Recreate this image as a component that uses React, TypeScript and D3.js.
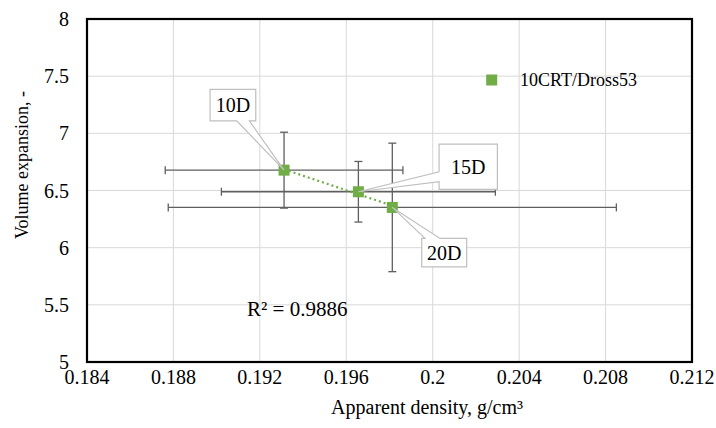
import React from "react";
import * as d3 from "d3";

// ---- data ----
const labels = ["10D", "15D", "20D"];
const density = [0.19312, 0.19656, 0.19813];
const expansion = [6.678, 6.489, 6.352];
const densityErr = [0.0055, 0.00634, 0.01037];
const expansionErr = [0.332, 0.265, 0.562];
const xTicks = [0.184, 0.188, 0.192, 0.196, 0.2, 0.204, 0.208, 0.212];
const yTicks = [5, 5.5, 6, 6.5, 7, 7.5, 8];
const seriesName = "10CRT/Dross53";
const r2Text = "R² = 0.9886";

// callout layout (box offsets relative to point, px) — styling only
const callouts = [
  { dx: -74, dy: -80.7, w: 45.7, h: 31.4, side: "bottom", a: 26.7, b: 39.3 },
  { dx: 80.7, dy: -47.7, w: 58.3, h: 45.3, side: "left", a: 27.7, b: 37.7 },
  { dx: 29.4, dy: 31, w: 45, h: 28.4, side: "top", a: 3.3, b: 18.3 },
];

const W = 716;
const H = 428;
const M = { left: 87, right: 692, top: 19, bottom: 362 };
const GREEN = "#70AD47";
const FONT = "'Liberation Serif', 'Times New Roman', serif";

export default function App() {
  const x = d3.scaleLinear().domain([0.184, 0.212]).range([M.left, M.right]);
  const y = d3.scaleLinear().domain([5, 8]).range([M.bottom, M.top]);

  const pts = density.map((d, i) => ({
    x: d,
    y: expansion[i],
    ex: densityErr[i],
    ey: expansionErr[i],
    label: labels[i],
  }));

  // linear trendline (least squares)
  const mx = d3.mean(density)!;
  const my = d3.mean(expansion)!;
  let num = 0,
    den = 0;
  density.forEach((d, i) => {
    num += (d - mx) * (expansion[i] - my);
    den += (d - mx) * (d - mx);
  });
  const slope = num / den;
  const icpt = my - slope * mx;
  const [x0, x1] = d3.extent(density) as [number, number];
  const trend = d3.line<number>()
    .x((d) => x(d))
    .y((d) => y(icpt + slope * d))([x0, x1]);

  const cap = 4;
  const errColor = "#5f5f5f";

  return (
    <svg
      width={W}
      height={H}
      style={{ position: "absolute", left: 0, top: 0, background: "#fff" }}
      fontFamily={FONT}
    >
      <rect x={0} y={0} width={W} height={H} fill="#fff" />
      {/* gridlines */}
      {xTicks.map((t) => (
        <line key={"gx" + t} x1={x(t)} x2={x(t)} y1={M.top} y2={M.bottom} stroke="#d9d9d9" strokeWidth={1} />
      ))}
      {yTicks.map((t) => (
        <line key={"gy" + t} x1={M.left} x2={M.right} y1={y(t)} y2={y(t)} stroke="#d9d9d9" strokeWidth={1} />
      ))}

      {/* error bars */}
      {pts.map((p, i) => (
        <g key={"e" + i} stroke={errColor} strokeWidth={1.3}>
          <line x1={x(p.x - p.ex)} x2={x(p.x + p.ex)} y1={y(p.y)} y2={y(p.y)} />
          <line x1={x(p.x - p.ex)} x2={x(p.x - p.ex)} y1={y(p.y) - cap} y2={y(p.y) + cap} />
          <line x1={x(p.x + p.ex)} x2={x(p.x + p.ex)} y1={y(p.y) - cap} y2={y(p.y) + cap} />
          <line x1={x(p.x)} x2={x(p.x)} y1={y(p.y - p.ey)} y2={y(p.y + p.ey)} />
          <line x1={x(p.x) - cap} x2={x(p.x) + cap} y1={y(p.y + p.ey)} y2={y(p.y + p.ey)} />
          <line x1={x(p.x) - cap} x2={x(p.x) + cap} y1={y(p.y - p.ey)} y2={y(p.y - p.ey)} />
        </g>
      ))}

      {/* trendline */}
      <path d={trend!} stroke={GREEN} strokeWidth={2.2} strokeDasharray="2,3" fill="none" />

      {/* markers */}
      {pts.map((p, i) => (
        <rect key={"m" + i} x={x(p.x) - 5.5} y={y(p.y) - 5.5} width={11} height={11} fill={GREEN} />
      ))}

      {/* callouts */}
      {pts.map((p, i) => {
        const c = callouts[i];
        const px = x(p.x);
        const py = y(p.y);
        const bx = px + c.dx;
        const by = py + c.dy;
        const r = bx + c.w;
        const b = by + c.h;
        let d = "";
        if (c.side === "bottom") {
          d = `M${bx},${by}H${r}V${b}H${bx + c.b}L${px},${py}L${bx + c.a},${b}H${bx}Z`;
        } else if (c.side === "left") {
          d = `M${bx},${by}H${r}V${b}H${bx}V${by + c.b}L${px},${py}L${bx},${by + c.a}Z`;
        } else {
          d = `M${bx},${by}H${bx + c.a}L${px},${py}L${bx + c.b},${by}H${r}V${b}H${bx}Z`;
        }
        return (
          <g key={"c" + i}>
            <path d={d} fill="#fff" stroke="#bfbfbf" strokeWidth={1.2} />
            <text
              x={bx + c.w / 2}
              y={by + c.h / 2}
              textAnchor="middle"
              dominantBaseline="central"
              fontSize={20}
              fill="#000"
            >
              {p.label}
            </text>
          </g>
        );
      })}

      {/* plot border */}
      <rect
        x={M.left}
        y={M.top}
        width={M.right - M.left}
        height={M.bottom - M.top}
        fill="none"
        stroke="#000"
        strokeWidth={2.2}
      />

      {/* y ticks */}
      {yTicks.map((t) => (
        <text key={"yt" + t} x={69} y={y(t)} textAnchor="end" dominantBaseline="central" fontSize={20} fill="#000">
          {d3.format("")(t)}
        </text>
      ))}
      {/* x ticks */}
      {xTicks.map((t) => (
        <text key={"xt" + t} x={x(t)} y={377} textAnchor="middle" dominantBaseline="central" fontSize={20} fill="#000">
          {d3.format("")(t)}
        </text>
      ))}

      {/* axis titles */}
      <text x={427} y={414} textAnchor="middle" fontSize={20} fill="#000">
        Apparent density, g/cm³
      </text>
      <text
        transform={`translate(28,${165}) rotate(-90)`}
        textAnchor="middle"
        fontSize={18}
        fill="#000"
      >
        Volume expansion, -
      </text>

      {/* legend */}
      <rect x={486.2} y={74.5} width={11} height={11} fill={GREEN} />
      <text x={520} y={80} dominantBaseline="central" fontSize={18} fill="#000">
        {seriesName}
      </text>

      {/* R² */}
      <text x={247} y={316} fontSize={21} fill="#000">
        {r2Text}
      </text>
    </svg>
  );
}
